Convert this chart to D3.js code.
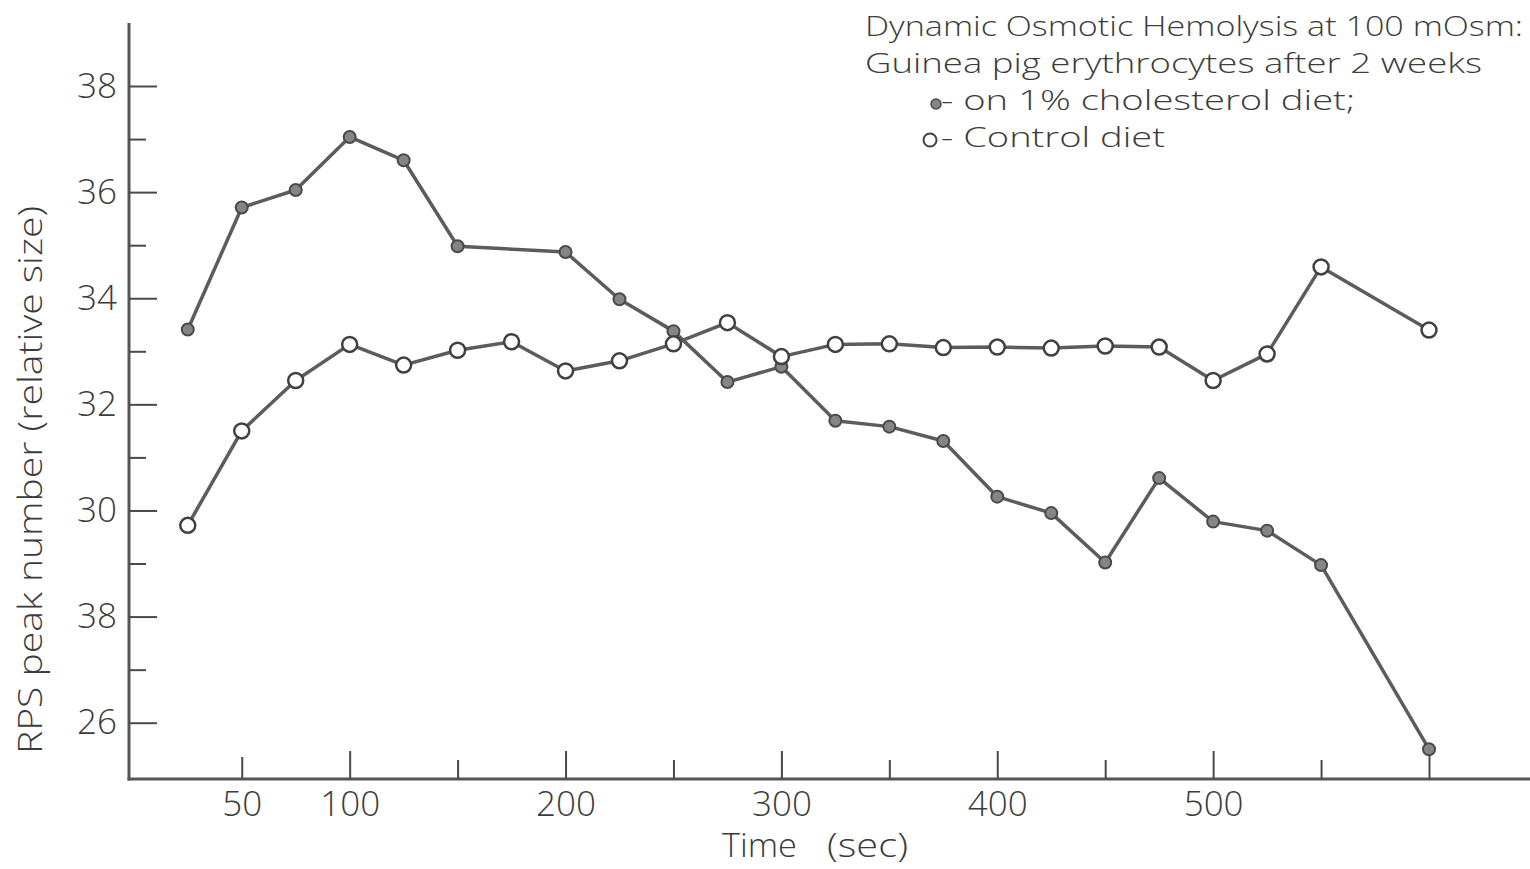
<!DOCTYPE html>
<html>
<head>
<meta charset="utf-8">
<script src="https://cdn.jsdelivr.net/npm/d3@7"></script>
<style>
  html, body { margin: 0; padding: 0; background: #fff; }
  svg { display: block; }
  text { font-family: "Open Sans", "Liberation Sans", sans-serif; font-weight: 300; fill: #3c3c3c; }
</style>
</head>
<body>
<svg id="chart" width="1530" height="869"></svg>
<script>
// ---- Data ----
const cholTimes = [25, 50, 75, 100, 125, 150, 200, 225, 250, 275, 300, 325, 350, 375, 400, 425, 450, 475, 500, 525, 550, 600];
const cholValues = [33.41, 35.71, 36.04, 37.04, 36.60, 34.98, 34.87, 33.98, 33.38, 32.42, 32.71, 31.69, 31.58, 31.31, 30.26, 29.95, 29.02, 30.61, 29.79, 29.62, 28.97, 25.50];

const ctrlTimes = [25, 50, 75, 100, 125, 150, 175, 200, 225, 250, 275, 300, 325, 350, 375, 400, 425, 450, 475, 500, 525, 550, 600];
const ctrlValues = [29.72, 31.50, 32.45, 33.13, 32.74, 33.02, 33.18, 32.63, 32.82, 33.14, 33.54, 32.90, 33.13, 33.14, 33.07, 33.08, 33.06, 33.10, 33.08, 32.45, 32.95, 34.59, 33.40];

const xTickValues = [50, 100, 150, 200, 250, 300, 350, 400, 450, 500, 550, 600];
const xTickLabels = ["50", "100", "", "200", "", "300", "", "400", "", "500", "", ""];
const yMajorTicks = [26, 28, 30, 32, 34, 36, 38];
const yMajorLabels = ["26", "38", "30", "32", "34", "36", "38"]; // as printed in the original figure
const yMinorTicks = [27, 29, 31, 33, 35, 37];

const titleLines = [
  "Dynamic Osmotic Hemolysis at 100 mOsm:",
  "Guinea  pig erythrocytes  after 2 weeks"
];
const legendLabels = ["- on  1% cholesterol diet;", "- Control  diet"];
const xTitle = ["Time", "(sec)"];
const yTitle = "RPS peak number  (relative size)";

// ---- Layout ----
const svg = d3.select("#chart");
const axisX0 = 129, axisYTop = 23, axisYBase = 779, axisXEnd = 1530;
const x = d3.scaleLinear().domain([0, 600]).range([133.8, 1429]);
const y = d3.scaleLinear().domain([26, 38]).range([722.7, 86]);
const ink = "#4a4a4a";

// Axis lines
svg.append("line").attr("x1", axisX0).attr("x2", axisX0).attr("y1", axisYTop).attr("y2", axisYBase + 1.5)
  .attr("stroke", "#555").attr("stroke-width", 3);
svg.append("line").attr("x1", axisX0 - 1.5).attr("x2", axisXEnd).attr("y1", axisYBase).attr("y2", axisYBase)
  .attr("stroke", "#555").attr("stroke-width", 3);

// Y axis (major, labelled)
const yMaj = svg.append("g").attr("transform", `translate(${axisX0},0)`)
  .call(d3.axisLeft(y).tickValues(yMajorTicks).tickSizeInner(-28).tickSizeOuter(0).tickPadding(12)
    .tickFormat(d => yMajorLabels[yMajorTicks.indexOf(d)]));
yMaj.select(".domain").remove();
yMaj.selectAll("line").attr("stroke", ink).attr("stroke-width", 2);
yMaj.selectAll("text").attr("font-size", 35).style("fill", "#3c3c3c").attr("font-family", null);

// Y axis (minor)
const yMin = svg.append("g").attr("transform", `translate(${axisX0},0)`)
  .call(d3.axisLeft(y).tickValues(yMinorTicks).tickSizeInner(-17).tickSizeOuter(0).tickFormat(""));
yMin.select(".domain").remove();
yMin.selectAll("line").attr("stroke", ink).attr("stroke-width", 2);

// X axis
const xAx = svg.append("g").attr("transform", `translate(0,${axisYBase})`)
  .call(d3.axisBottom(x).tickValues(xTickValues).tickSizeInner(0).tickSizeOuter(0).tickPadding(12)
    .tickFormat(d => xTickLabels[xTickValues.indexOf(d)]));
xAx.select(".domain").remove();
xAx.selectAll(".tick line")
  .attr("y2", d => d % 100 === 0 ? -28 : (d === 50 ? -22 : -19))
  .attr("stroke", ink).attr("stroke-width", 2);
xAx.selectAll("text").attr("font-size", 35).style("fill", "#3c3c3c").attr("font-family", null);

// Axis titles
svg.append("text").attr("x", 722).attr("y", 857).attr("font-size", 33)
  .attr("textLength", 75).attr("lengthAdjust", "spacingAndGlyphs").text(xTitle[0]);
svg.append("text").attr("x", 827).attr("y", 857).attr("font-size", 33)
  .attr("textLength", 81).attr("lengthAdjust", "spacingAndGlyphs").text(xTitle[1]);
svg.append("text").attr("transform", "translate(42,480) rotate(-90)").attr("text-anchor", "middle")
  .attr("font-size", 33).attr("textLength", 548).attr("lengthAdjust", "spacingAndGlyphs").text(yTitle);

// Series
const line = d3.line().x(d => x(d[0])).y(d => y(d[1]));
const chol = cholTimes.map((t, i) => [t, cholValues[i]]);
const ctrl = ctrlTimes.map((t, i) => [t, ctrlValues[i]]);

svg.append("path").datum(chol).attr("d", line).attr("fill", "none")
  .attr("stroke", "#5c5c5c").attr("stroke-width", 3.5).attr("stroke-linejoin", "round");
svg.append("path").datum(ctrl).attr("d", line).attr("fill", "none")
  .attr("stroke", "#5c5c5c").attr("stroke-width", 3.5).attr("stroke-linejoin", "round");

svg.append("g").selectAll("circle").data(chol).join("circle")
  .attr("cx", d => x(d[0])).attr("cy", d => y(d[1])).attr("r", 6)
  .attr("fill", "#858585").attr("stroke", "#4a4a4a").attr("stroke-width", 2);
svg.append("g").selectAll("circle").data(ctrl).join("circle")
  .attr("cx", d => x(d[0])).attr("cy", d => y(d[1])).attr("r", 7.5)
  .attr("fill", "#fff").attr("stroke", "#404040").attr("stroke-width", 2.5);

// Title / legend block
svg.append("text").attr("x", 865).attr("y", 36).attr("font-size", 28)
  .attr("textLength", 658).attr("lengthAdjust", "spacingAndGlyphs").text(titleLines[0]);
svg.append("text").attr("x", 865).attr("y", 73).attr("font-size", 28)
  .attr("textLength", 617).attr("lengthAdjust", "spacingAndGlyphs").text(titleLines[1]);
svg.append("circle").attr("cx", 936).attr("cy", 104).attr("r", 5)
  .attr("fill", "#858585").attr("stroke", "#4a4a4a").attr("stroke-width", 1.5);
svg.append("text").attr("x", 941).attr("y", 110).attr("font-size", 28)
  .attr("textLength", 414).attr("lengthAdjust", "spacingAndGlyphs").text(legendLabels[0]);
svg.append("circle").attr("cx", 930).attr("cy", 140).attr("r", 6.5)
  .attr("fill", "#fff").attr("stroke", "#404040").attr("stroke-width", 2);
svg.append("text").attr("x", 941).attr("y", 147).attr("font-size", 28)
  .attr("textLength", 224).attr("lengthAdjust", "spacingAndGlyphs").text(legendLabels[1]);
</script>
</body>
</html>
